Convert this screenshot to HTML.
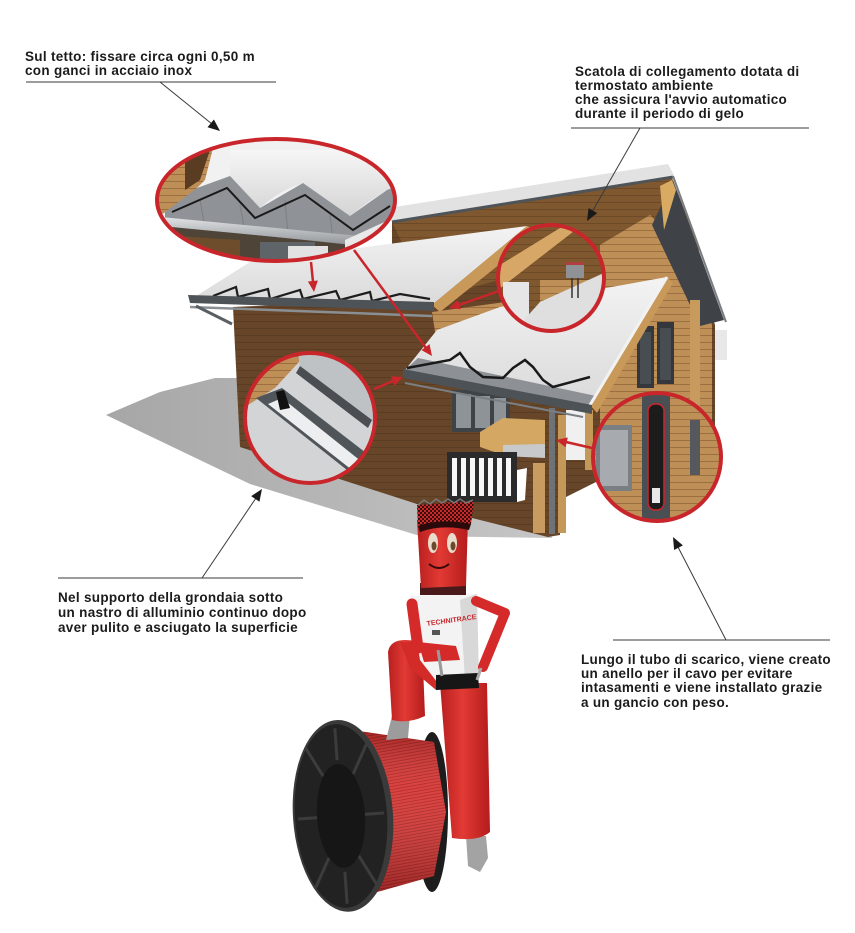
<!DOCTYPE html>
<html><head><meta charset="utf-8"><style>
html,body{margin:0;padding:0;background:#fff;}
svg{display:block;}
.t{font-family:"Liberation Sans",sans-serif;font-weight:bold;font-size:13.5px;fill:#1b1b1b;letter-spacing:0.3px;}
</style></head><body>
<svg width="855" height="933" viewBox="0 0 855 933" xmlns="http://www.w3.org/2000/svg">
<defs>
 <clipPath id="c1"><ellipse cx="276" cy="200" rx="119" ry="61"/></clipPath>
 <clipPath id="c2"><circle cx="310" cy="418" r="65"/></clipPath>
 <clipPath id="c3"><circle cx="551" cy="278" r="52"/></clipPath>
 <clipPath id="c4"><circle cx="657" cy="457" r="63"/></clipPath>
 <linearGradient id="shg" x1="0" y1="0" x2="1" y2="0"><stop offset="0" stop-color="#a6a6a6"/><stop offset="1" stop-color="#c6c6c6"/></linearGradient>
 <linearGradient id="snow" x1="0" y1="0" x2="0" y2="1"><stop offset="0" stop-color="#f3f3f3"/><stop offset="1" stop-color="#dadada"/></linearGradient>
 <linearGradient id="mound" x1="0" y1="0" x2="0" y2="1"><stop offset="0" stop-color="#f6f6f6"/><stop offset="1" stop-color="#d4d4d4"/></linearGradient>
 <linearGradient id="tube" x1="0" y1="0" x2="0" y2="1"><stop offset="0" stop-color="#e4e6e8"/><stop offset="1" stop-color="#8e9296"/></linearGradient>
 <linearGradient id="redg" x1="0" y1="0" x2="1" y2="0"><stop offset="0" stop-color="#b81f1f"/><stop offset="0.45" stop-color="#e23a34"/><stop offset="1" stop-color="#b41c1c"/></linearGradient>
 <linearGradient id="cylg" x1="0" y1="0" x2="0" y2="1"><stop offset="0" stop-color="#000" stop-opacity="0.25"/><stop offset="0.35" stop-color="#fff" stop-opacity="0.08"/><stop offset="1" stop-color="#000" stop-opacity="0.3"/></linearGradient>
 <pattern id="wood" width="10" height="7" patternUnits="userSpaceOnUse"><rect width="10" height="7" fill="#664528"/><rect y="6.2" width="10" height="0.8" fill="#573a21"/></pattern>
 <pattern id="tan" width="10" height="7" patternUnits="userSpaceOnUse"><rect width="10" height="7" fill="#bf8f58"/><rect y="6" width="10" height="1" fill="#9c6f40"/></pattern>
 <pattern id="mid" width="10" height="7" patternUnits="userSpaceOnUse"><rect width="10" height="7" fill="#80582f"/><rect y="6" width="10" height="1" fill="#6c4a28"/></pattern>
 <pattern id="cable" width="8" height="3" patternUnits="userSpaceOnUse" patternTransform="rotate(-10)"><rect width="8" height="3" fill="#d8322f"/><rect y="2.2" width="8" height="0.8" fill="#a61c1c"/></pattern>
 <pattern id="chk" width="4" height="4" patternUnits="userSpaceOnUse"><rect width="4" height="4" fill="#c92a2a"/><rect width="2" height="2" fill="#3a0c0c"/><rect x="2" y="2" width="2" height="2" fill="#3a0c0c"/></pattern>
</defs>
<rect width="855" height="933" fill="#fff"/>

<!-- shadow -->
<polygon points="106,415 160,392 215,378 245,378 420,470 548,520 552,538 420,536 250,484" fill="url(#shg)"/>

<!-- big back roof -->
<polygon points="392,222 672,178 715,325 715,475 600,480 560,500 548,537 420,505 240,447 233,307 392,300" fill="url(#wood)"/>
<polygon points="392,222 672,178 700,250 650,262 560,262 430,300" fill="url(#mid)"/>
<polygon points="600,245 650,215 690,255 712,325 712,470 640,478 600,460" fill="url(#tan)"/>
<polygon points="652,225 673,180 724,320 700,326" fill="#3f4347"/>
<polygon points="660,186 672,180 676,190 664,230" fill="#d8aa62"/>
<polygon points="388,208 668,164 674,175 392,222" fill="#e2e2e2"/>
<line x1="392" y1="222" x2="673" y2="177" stroke="#4f5458" stroke-width="3"/>
<line x1="673" y1="176" x2="726" y2="322" stroke="#7a7e82" stroke-width="2"/>
<!-- right side windows -->
<rect x="637" y="326" width="17" height="62" fill="#34383c"/>
<rect x="657" y="322" width="17" height="62" fill="#34383c"/>
<rect x="640" y="332" width="11" height="52" fill="#484d52"/>
<rect x="660" y="328" width="11" height="52" fill="#484d52"/>
<rect x="690" y="300" width="10" height="150" fill="#c89a5e"/>
<rect x="715" y="330" width="12" height="30" fill="#e8e8e8"/>

<!-- left roof -->
<polygon points="193,298 250,262 527,226 432,305" fill="url(#snow)"/>
<polygon points="432,305 527,226 540,232 440,312" fill="#c9995a"/>
<polyline points="213,296 236,287 238,297 268,289 270,299 300,290 303,299 336,291 340,300 370,292 372,301 400,294 430,299" fill="none" stroke="#1d1d1d" stroke-width="2.2"/>
<polygon points="188,295 434,302 434,311 190,303" fill="#4e5357"/>
<line x1="190" y1="307" x2="432" y2="316" stroke="#8a8f94" stroke-width="2.5"/>
<line x1="196" y1="306" x2="232" y2="324" stroke="#5a5f63" stroke-width="3"/>

<!-- gable between roofs -->
<polygon points="432,312 520,300 520,335 437,345" fill="url(#tan)"/>

<!-- front wall under right roof -->
<polygon points="405,380 560,410 560,535 548,537 420,500 405,495" fill="url(#wood)"/>
<rect x="452" y="390" width="58" height="42" fill="#3e4347"/>
<rect x="456" y="394" width="15" height="34" fill="#8e9398"/>
<rect x="475" y="396" width="15" height="32" fill="#8e9398"/>
<rect x="494" y="398" width="12" height="30" fill="#8e9398"/>
<polygon points="480,432 503,418 545,420 545,455 503,455 480,447" fill="#d4a863"/>
<polygon points="503,445 545,444 545,458 503,456" fill="#c7c9cb"/>
<rect x="447" y="452" width="70" height="50" fill="#2b2b2b"/>
<g fill="#f7f7f7">
 <rect x="452" y="458" width="5" height="38"/><rect x="461" y="458" width="5" height="38"/><rect x="470" y="458" width="5" height="38"/>
 <rect x="479" y="458" width="5" height="38"/><rect x="488" y="458" width="5" height="38"/><rect x="497" y="458" width="5" height="38"/><rect x="506" y="458" width="5" height="38"/>
</g>
<polygon points="517,470 527,468 525,500 517,502" fill="#fff"/>
<rect x="533" y="463" width="12" height="70" fill="#c89c60"/>
<rect x="558" y="415" width="8" height="118" fill="#c49858"/>
<rect x="549" y="408" width="6" height="126" fill="#6e7378"/>
<rect x="566" y="410" width="20" height="50" fill="#f0f0f0"/>
<rect x="585" y="410" width="8" height="60" fill="#c49858"/>

<!-- right roof -->
<polygon points="405,370 437,330 500,307 667,277 590,405" fill="url(#snow)"/>
<polygon points="405,370 590,405 596,396 418,358" fill="#8d9196"/>
<polyline points="407,368 450,360 460,353 470,367 483,377 503,378 513,368 525,360 533,367 543,380 553,387 590,377" fill="none" stroke="#1a1a1a" stroke-width="2.5"/>
<polygon points="667,277 673,283 597,413 590,405" fill="#c9995a"/>
<line x1="667" y1="277" x2="590" y2="405" stroke="#f2f2f2" stroke-width="3"/>
<polygon points="403,369 592,405 592,414 403,378" fill="#4d5256"/>
<line x1="405" y1="383" x2="583" y2="417" stroke="#7a7f84" stroke-width="2"/>

<!-- top-left ellipse -->
<g clip-path="url(#c1)">
 <rect x="150" y="130" width="260" height="140" fill="#f1f1f1"/>
 <polygon points="150,140 215,140 205,180 180,205 150,220" fill="url(#tan)"/>
 <polygon points="185,150 210,150 200,180 185,190" fill="#5a3c22"/>
 <path d="M230,176 Q245,200 260,208 Q280,190 303,183 Q330,205 350,216 Q370,200 387,190 L400,186 L400,150 L230,150 Z" fill="url(#mound)"/>
 <polygon points="165,212 197,188 230,176 260,208 303,183 350,216 387,190 400,185 400,250 165,250" fill="#8f9397"/>
 <g stroke="#7c8084" stroke-width="1"><line x1="200" y1="200" x2="205" y2="228"/><line x1="240" y1="205" x2="245" y2="232"/><line x1="285" y1="200" x2="288" y2="236"/><line x1="330" y1="215" x2="333" y2="240"/></g>
 <polyline points="172,212 227,188 255,218 305,195 353,230 390,206" fill="none" stroke="#1a1a1a" stroke-width="2"/>
 <polygon points="160,225 400,250 400,275 160,275" fill="#4f4438"/>
 <polygon points="160,235 240,240 240,275 160,275" fill="#6e4d2c"/>
 <rect x="260" y="242" width="55" height="30" fill="#5f6468"/>
 <rect x="288" y="246" width="40" height="25" fill="#e2e2e2"/>
 <polygon points="150,216 370,237 370,246 150,225" fill="url(#tube)"/>
 <polygon points="345,240 400,215 400,270 345,270" fill="#e9e9e9"/>
</g>
<ellipse cx="276" cy="200" rx="119" ry="61" fill="none" stroke="#c8262b" stroke-width="4"/>

<!-- lower-left circle -->
<g clip-path="url(#c2)">
 <rect x="240" y="350" width="140" height="140" fill="#d2d4d6"/>
 <polygon points="240,350 310,350 275,388 240,410" fill="url(#tan)"/>
 <polygon points="298,352 380,352 380,415 372,422 300,368" fill="#bfc2c5"/>
 <polygon points="300,366 372,420 368,428 296,373" fill="#4a4e52"/>
 <polygon points="256,398 282,388 370,456 352,474" fill="#50555a"/>
 <polygon points="268,404 282,398 362,462 352,470" fill="#eceef0"/>
 <polygon points="276,392 284,390 290,408 280,410" fill="#111"/>
</g>
<circle cx="310" cy="418" r="65" fill="none" stroke="#c8262b" stroke-width="4"/>

<!-- thermostat circle -->
<g clip-path="url(#c3)">
 <rect x="495" y="222" width="112" height="112" fill="url(#mid)"/>
 <polygon points="495,268 560,228 578,228 498,290" fill="#d6a766"/>
 <rect x="540" y="280" width="65" height="40" fill="url(#tan)"/>
 <rect x="503" y="282" width="26" height="50" fill="#e6e6e6"/>
 <polygon points="515,330 540,302 606,272 606,336" fill="#dfdfdf"/>
 <rect x="566" y="262" width="18" height="16" fill="#8e9195"/>
 <rect x="566" y="262" width="18" height="3" fill="#b04040"/>
 <line x1="572" y1="278" x2="572" y2="298" stroke="#333" stroke-width="1.5"/>
 <line x1="578" y1="278" x2="578" y2="298" stroke="#333" stroke-width="1.5"/>
</g>
<circle cx="551" cy="278" r="53" fill="none" stroke="#c8262b" stroke-width="4"/>

<!-- downpipe circle -->
<g clip-path="url(#c4)">
 <rect x="592" y="392" width="130" height="130" fill="url(#tan)"/>
 <rect x="596" y="425" width="36" height="66" fill="#7a7f84"/>
 <rect x="600" y="430" width="28" height="56" fill="#a7abaf"/>
 <rect x="690" y="420" width="10" height="55" fill="#55595d"/>
 <rect x="642" y="390" width="28" height="135" fill="#4a4f54"/>
 <rect x="648" y="404" width="16" height="106" rx="7" fill="#1c1c1c" stroke="#c8262b" stroke-width="1.5"/>
 <rect x="652" y="488" width="8" height="15" fill="#e8e8e8"/>
</g>
<circle cx="657" cy="457" r="64" fill="none" stroke="#c8262b" stroke-width="4"/>

<!-- red arrows -->
<g stroke="#c8262b" stroke-width="2.5">
 <line x1="311" y1="262" x2="313" y2="282"/>
 <line x1="354" y1="250" x2="426" y2="348"/>
 <line x1="499" y1="291" x2="459" y2="305"/>
 <line x1="374" y1="389" x2="393" y2="381"/>
 <line x1="592" y1="448" x2="566" y2="442"/>
</g>
<g fill="#c8262b">
 <polygon points="314,292 307.9,281.5 317.9,280.5"/>
 <polygon points="432,356 421.5,350.1 429.5,344.1"/>
 <polygon points="449,308 457.8,299.8 461,309.2"/>
 <polygon points="403,377 394.5,385.7 390.9,376.3"/>
 <polygon points="556,440 567.8,437.5 565.6,447.3"/>
</g>

<!-- spool -->
<ellipse cx="432" cy="812" rx="16" ry="80" fill="#1d1d1d"/>
<polygon points="352,730 434,742 446,812 434,876 356,898" fill="url(#cable)"/>
<polygon points="352,730 434,742 446,812 434,876 356,898" fill="url(#cylg)"/>
<g transform="rotate(-4 341 816)">
 <ellipse cx="343" cy="816" rx="50" ry="96" fill="#3a3a3a"/>
 <ellipse cx="341" cy="816" rx="46" ry="92" fill="#222"/>
 <g stroke="#3c3c3c" stroke-width="3">
  <line x1="341" y1="760" x2="341" y2="728"/><line x1="341" y1="872" x2="341" y2="904"/>
  <line x1="318" y1="816" x2="298" y2="816"/><line x1="364" y1="816" x2="384" y2="816"/>
  <line x1="326" y1="775" x2="310" y2="745"/><line x1="356" y1="775" x2="372" y2="745"/>
  <line x1="326" y1="857" x2="310" y2="887"/><line x1="356" y1="857" x2="372" y2="887"/>
 </g>
 <ellipse cx="341" cy="816" rx="24" ry="52" fill="#161616"/>
</g>

<!-- mascot -->
<polygon points="466,836 486,836 488,858 480,872 468,866" fill="#a3a3a3"/>
<path d="M440,683 L487,683 L490,832 Q478,842 452,838 L446,760 Z" fill="url(#redg)"/>
<polygon points="392,716 410,714 408,738 386,740" fill="#9c9c9c"/>
<path d="M388,652 Q390,640 405,640 L422,641 L425,716 Q408,724 392,720 Z" fill="url(#redg)"/>
<polygon points="400,642 458,644 470,684 436,690 410,668" fill="#d22b28"/>
<polygon points="410,596 477,594 479,680 437,682 420,660" fill="#f3f3f3"/>
<polygon points="460,600 477,594 479,680 465,680" fill="#d8d8d8"/>
<polygon points="436,675 478,673 479,688 436,690" fill="#161616"/>
<path d="M476,601 L505,613 L483,667" fill="none" stroke="#d42a2a" stroke-width="10" stroke-linejoin="round" stroke-linecap="round"/>
<line x1="481" y1="668" x2="477" y2="680" stroke="#aaa" stroke-width="3"/>
<path d="M412,604 L418,648" stroke="#d42a2a" stroke-width="11" stroke-linecap="round"/>
<polygon points="418,642 456,646 460,660 424,662" fill="#d42a2a"/>
<line x1="438" y1="650" x2="442" y2="676" stroke="#9a9a9a" stroke-width="3"/>
<text x="427" y="626" transform="rotate(-8 427 626)" font-family="Liberation Sans, sans-serif" font-weight="bold" font-size="7" fill="#c8262b">TECHNITRACE</text>
<rect x="432" y="630" width="8" height="5" fill="#555"/>
<rect x="420" y="583" width="46" height="12" fill="#4a1a1a"/>
<path d="M417,520 L468,518 L466,586 L421,588 Z" fill="url(#redg)"/>
<polygon points="417,505 474,501 471,524 418,526" fill="url(#chk)"/>
<polyline points="418,505 424,500 430,504 436,499 442,503 448,499 454,503 460,499 466,503 473,500" fill="none" stroke="#777" stroke-width="1.5"/>
<path d="M418,526 Q440,518 471,524 L469,530 Q442,524 420,532 Z" fill="#2a0a0a"/>
<ellipse cx="433" cy="543" rx="5" ry="10" fill="#e9dccb"/>
<ellipse cx="452" cy="543" rx="5" ry="10" fill="#e9dccb"/>
<ellipse cx="434" cy="546" rx="2.5" ry="4.5" fill="#6a4a2a"/>
<ellipse cx="453" cy="546" rx="2.5" ry="4.5" fill="#6a4a2a"/>
<path d="M429,564 Q439,572 449,564" fill="none" stroke="#3a0a0a" stroke-width="2"/>

<!-- black leader lines -->
<g stroke="#3a3a3a" stroke-width="1">
 <line x1="26" y1="82" x2="276" y2="82"/>
 <line x1="160" y1="82" x2="212" y2="124"/>
 <line x1="571" y1="128" x2="809" y2="128"/>
 <line x1="640" y1="128" x2="592" y2="212"/>
 <line x1="58" y1="578" x2="303" y2="578"/>
 <line x1="202" y1="578" x2="256" y2="498"/>
 <line x1="613" y1="640" x2="830" y2="640"/>
 <line x1="726" y1="640" x2="678" y2="547"/>
</g>
<g fill="#1a1a1a">
 <polygon points="220,131 207.5,127.3 213.9,119.5"/>
 <polygon points="587,221 588.6,208.1 597.2,213.1"/>
 <polygon points="262,489 259.4,501.7 251.2,496.1"/>
 <polygon points="673,537 682.9,545.4 674.1,550"/>
</g>

<!-- texts -->
<text class="t" x="25" y="61">Sul tetto: fissare circa ogni 0,50 m</text>
<text class="t" x="25" y="75">con ganci in acciaio inox</text>
<text class="t" x="575" y="76">Scatola di collegamento dotata di</text>
<text class="t" x="575" y="90">termostato ambiente</text>
<text class="t" x="575" y="104">che assicura l'avvio automatico</text>
<text class="t" x="575" y="118">durante il periodo di gelo</text>
<text class="t" x="58" y="602">Nel supporto della grondaia sotto</text>
<text class="t" x="58" y="617">un nastro di alluminio continuo dopo</text>
<text class="t" x="58" y="632">aver pulito e asciugato la superficie</text>
<text class="t" x="581" y="664">Lungo il tubo di scarico, viene creato</text>
<text class="t" x="581" y="678">un anello per il cavo per evitare</text>
<text class="t" x="581" y="692">intasamenti e viene installato grazie</text>
<text class="t" x="581" y="707">a un gancio con peso.</text>
</svg>
</body></html>
